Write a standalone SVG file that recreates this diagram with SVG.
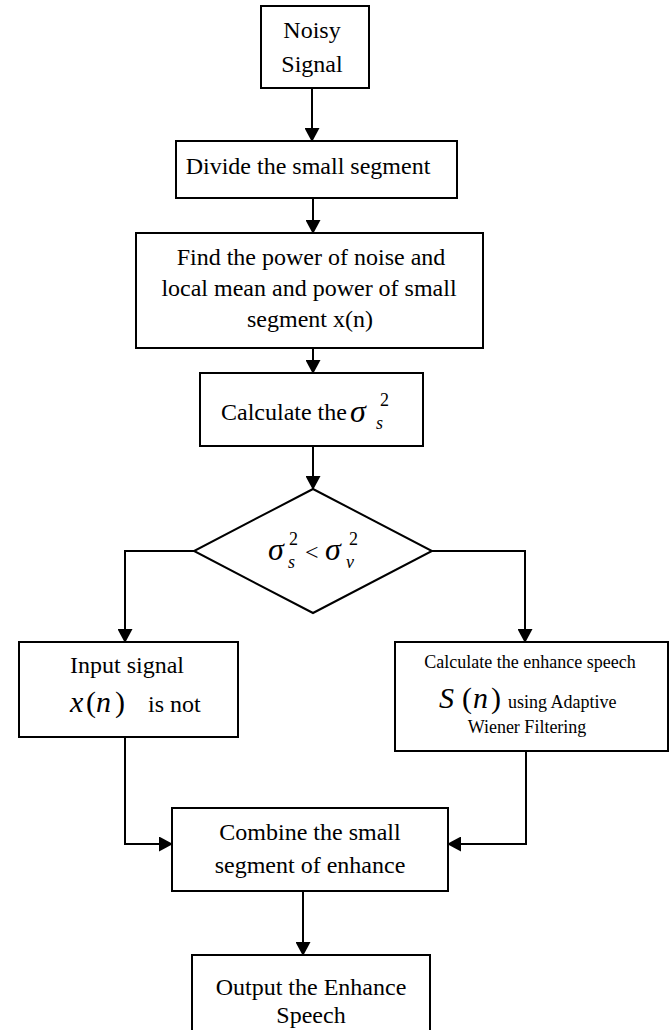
<svg xmlns="http://www.w3.org/2000/svg" width="670" height="1030" viewBox="0 0 670 1030">
<style>
.box{fill:#fff;stroke:#000;stroke-width:2}
.t{font-family:"Liberation Serif","Times New Roman",serif;font-size:24px;fill:#000}
.c{text-anchor:middle}
.sm{font-size:18px}
.big{font-size:32px}
.math{font-size:30px}
.it{font-style:italic}
.cn{fill:none;stroke:#000;stroke-width:2}
</style>
<defs>
<marker id="ah" viewBox="0 0 14 15" markerWidth="14" markerHeight="15" refX="13" refY="7.5" orient="auto" markerUnits="userSpaceOnUse">
<path d="M0,0 L14,7.5 L0,15 z" fill="#000"/>
</marker>
<clipPath id="rclip"><rect x="395" y="642" width="273" height="97"/></clipPath>
</defs>
<rect width="670" height="1030" fill="#fff"/>
<g id="connectors">
<line class="cn" x1="312" y1="88" x2="312" y2="141" marker-end="url(#ah)"/>
<line class="cn" x1="313" y1="198" x2="313" y2="233" marker-end="url(#ah)"/>
<line class="cn" x1="313" y1="348" x2="313" y2="373" marker-end="url(#ah)"/>
<line class="cn" x1="313" y1="446" x2="313" y2="489" marker-end="url(#ah)"/>
<polyline class="cn" points="194,551 125,551 125,642" marker-end="url(#ah)"/>
<polyline class="cn" points="432,551 525,551 525,642" marker-end="url(#ah)"/>
<polyline class="cn" points="125,737 125,844 172,844" marker-end="url(#ah)"/>
<polyline class="cn" points="526,751 526,844 448,844" marker-end="url(#ah)"/>
<line class="cn" x1="303" y1="891" x2="303" y2="955" marker-end="url(#ah)"/>
</g>
<g id="noisy">
<rect class="box" x="261" y="6" width="108" height="82"/>
<text class="t c" x="312" y="38">Noisy</text>
<text class="t c" x="312" y="72">Signal</text>
</g>
<g id="divide">
<rect class="box" x="176" y="141" width="281" height="57"/>
<text class="t c" x="308" y="174">Divide the small segment</text>
</g>
<g id="find">
<rect class="box" x="136" y="233" width="347" height="115"/>
<text class="t c" x="311" y="265">Find the power of noise and</text>
<text class="t c" x="309" y="296">local mean and power of small</text>
<text class="t c" x="310" y="327">segment x(n)</text>
</g>
<g id="calc">
<rect class="box" x="200" y="373" width="223" height="73"/>
<text class="t" x="221" y="420">Calculate the</text>
<text class="t it big" x="350" y="422">σ</text>
<text class="t it sm" x="376" y="429">s</text>
<text class="t sm" x="380" y="406">2</text>
</g>
<g id="decision">
<polygon class="box" points="313,489 432,551 313,613 194,551"/>
<text class="t it big" x="268" y="560">σ</text>
<text class="t sm" x="289" y="545">2</text>
<text class="t it sm" x="288" y="568">s</text>
<text class="t" x="305" y="560">&lt;</text>
<text class="t it big" x="325" y="560">σ</text>
<text class="t sm" x="349" y="545">2</text>
<text class="t it sm" x="346" y="568">v</text>
</g>
<g id="input">
<rect class="box" x="19" y="642" width="219" height="95"/>
<text class="t c" x="127" y="673">Input signal</text>
<text class="t it math" x="70" y="712">x</text>
<text class="t math" x="86" y="712">(</text>
<text class="t it math" x="96" y="712">n</text>
<text class="t math" x="115" y="712">)</text>
<text class="t" x="148" y="712">is not</text>
</g>
<g id="wiener">
<rect class="box" x="395" y="642" width="273" height="109"/>
<text class="t c sm" x="530" y="668">Calculate the enhance speech</text>
<text class="t it math" x="439" y="708">S</text>
<text class="t math" x="462" y="708">(</text>
<text class="t it math" x="473" y="708">n</text>
<text class="t math" x="491" y="708">)</text>
<text class="t sm" x="508" y="708">using Adaptive</text>
<text class="t c sm" x="527" y="733" clip-path="url(#rclip)">Wiener Filtering</text>
</g>
<g id="combine">
<rect class="box" x="172" y="808" width="276" height="83"/>
<text class="t c" x="310" y="840">Combine the small</text>
<text class="t c" x="310" y="873">segment of enhance</text>
</g>
<g id="output">
<rect class="box" x="192" y="955" width="238" height="90"/>
<text class="t c" x="311" y="995">Output the Enhance</text>
<text class="t c" x="311" y="1023">Speech</text>
</g>
</svg>
